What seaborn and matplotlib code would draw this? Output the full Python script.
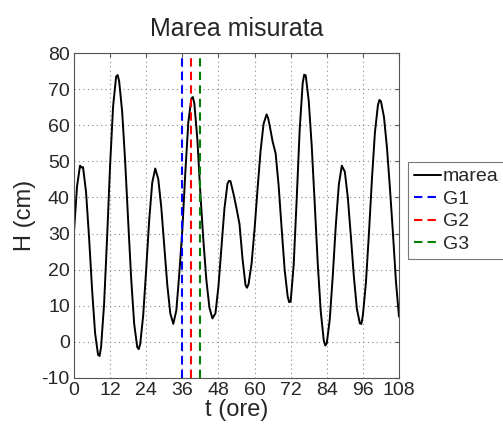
import numpy as np
import pandas as pd
import matplotlib
matplotlib.use("Agg")
import matplotlib.pyplot as plt
import seaborn as sns

# ---- data ----
t_hours = [0, 1, 2, 2.5, 3, 4, 5, 6, 7, 8, 8.5, 9,
           10, 11, 12, 13, 14, 14.5, 15, 16, 17, 18, 19,
           20, 21, 21.5, 22, 23, 24, 25, 26, 27, 28, 29,
           30, 31, 32, 33, 34, 35, 36, 37, 38, 39, 39.5,
           40, 41, 42, 43, 44, 45, 46, 47, 48, 49,
           50, 51, 51.5, 52, 53, 54, 55, 56, 57, 57.5, 58, 59,
           60, 61, 62, 63, 64, 64.5, 65, 66, 67, 68, 69,
           70, 71, 71.5, 72, 73, 74, 75, 76, 76.5, 77, 78, 79,
           80, 81, 82, 83, 83.5, 84, 85, 86, 87, 88, 89,
           90, 91, 92, 93, 94, 95, 95.5, 96, 97, 98, 99,
           100, 101, 101.5, 102, 103, 104, 105, 106, 107, 108]
H_cm = [30.5, 43, 48.8, 48.3, 48.4, 41.5, 29.0, 14.6, 2.5, -3.6, -3.9, -1.4,
        10.5, 28.9, 49, 65.3, 73.5, 73.9, 72.2, 63.8, 50.0, 33.5, 17.5,
        5.0, -1.4, -2.0, -0.6, 7.4, 20.2, 33.9, 44.1, 48, 45.1, 37.3,
        26.5, 15.8, 7.9, 5, 8.7, 19.0, 31, 47, 60.9, 67.4, 67.8,
        66, 56, 41, 28, 17, 9.5, 6.5, 7.9, 15.4, 26.2,
        37.0, 43.8, 44.6, 44.5, 41, 37, 32.6, 23, 15.7, 15.0, 16.0, 21.6,
        31.2, 42.4, 52.9, 60.4, 63, 62, 60, 55.5, 52.2, 43.3, 31.4,
        20.0, 12.6, 11.0, 11.2, 21.3, 39.5, 58.8, 71.7, 74.0, 73.8, 66.8, 54.2,
        38.2, 21.7, 8.4, 0.4, -1.0, -0.4, 6.3, 18.4, 32.3, 43.5, 48.8,
        47.1, 39.9, 29.3, 18.1, 9.2, 5.1, 5.0, 7.4, 16.3, 29.9, 45.0,
        58.0, 65.6, 67.0, 66.6, 62.3, 53.8, 42.4, 29.9, 16.5, 7]
gauge_names = ["G1", "G2", "G3"]
gauge_times = [36, 39, 42]
gauge_colors = ["#0000ff", "#ff0000", "#008000"]
x_ticks = [0, 12, 24, 36, 48, 60, 72, 84, 96, 108]
y_ticks = [-10, 0, 10, 20, 30, 40, 50, 60, 70, 80]

df = pd.DataFrame({"t": t_hours, "H": H_cm})

sns.set_style("white")
plt.rcParams["font.family"] = ["Liberation Sans", "DejaVu Sans"]
plt.rcParams["axes.unicode_minus"] = False

fig = plt.figure(figsize=(5.03, 4.28), dpi=100)
ax = fig.add_axes([74 / 503, 1 - 378 / 428, (399 - 74) / 503, (378 - 53) / 428])

sns.lineplot(data=df, x="t", y="H", ax=ax, color="black", linewidth=1.4,
             label="marea")
for name, tv, c in zip(gauge_names, gauge_times, gauge_colors):
    ax.axvline(tv, color=c, linewidth=1.5, linestyle=(0, (4, 2.5)), label=name)

ax.set_xlim(0, 108)
ax.set_ylim(-10, 80)
ax.set_xticks(x_ticks)
ax.set_yticks(y_ticks)
ax.tick_params(axis="both", direction="in", length=3, labelsize=14,
               top=True, right=True, color="#555555")
ax.tick_params(axis="x", pad=3)
ax.tick_params(axis="y", pad=3)
ax.grid(True, linestyle=(0, (1, 3)), color="#888888", linewidth=0.8)
for sp in ax.spines.values():
    sp.set_color("#555555")
    sp.set_linewidth(0.8)

ax.set_title("Marea misurata", fontsize=18, pad=12)
ax.set_xlabel("t (ore)", fontsize=17, labelpad=0)
ax.set_ylabel("H (cm)", fontsize=17, labelpad=4)

leg = ax.legend(loc="upper left", bbox_to_anchor=(408 / 503, 1 - 162 / 428),
                bbox_transform=fig.transFigure, fontsize=14, frameon=True,
                fancybox=False, borderpad=0.3, labelspacing=0.25,
                handlelength=1.4, handletextpad=0.1, borderaxespad=0)
leg.get_frame().set_edgecolor("#555555")
leg.get_frame().set_linewidth(0.8)

fig.savefig("out.png", dpi=100)
